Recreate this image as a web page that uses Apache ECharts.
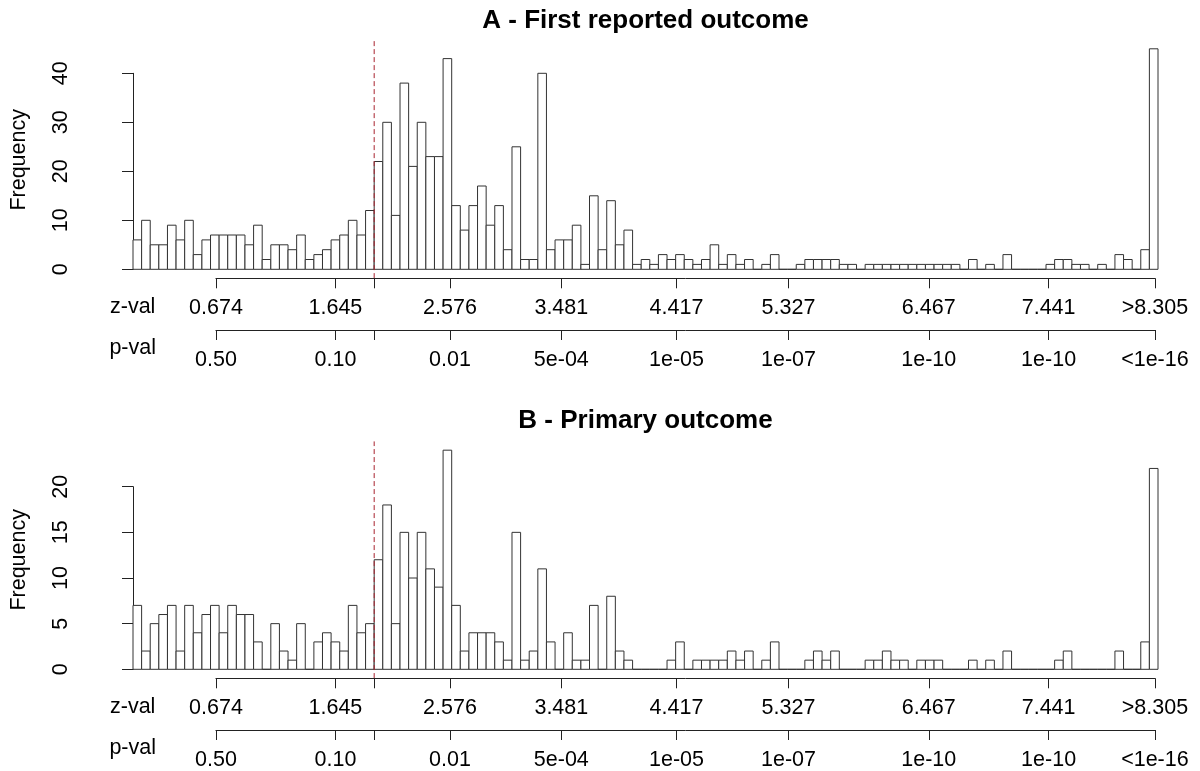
<!DOCTYPE html>
<html>
<head>
<meta charset="utf-8">
<script src="https://cdn.jsdelivr.net/npm/echarts@6/dist/echarts.min.js"></script>
<style>
  html, body { margin: 0; padding: 0; background: #fff; }
  #main { width: 1200px; height: 771px; }
</style>
</head>
<body>
<div id="main"></div>
<script>
// histogram bins of z, width 0.07 starting at 0 (last bin holds the capped values)
const binWidth = 0.07;
const zMax = 8.33;
const cutoff = 1.96;

const firstCounts = [
  6, 10, 5, 5, 9, 6, 10, 3, 6, 7,
  7, 7, 7, 5, 9, 2, 5, 5, 4, 7,
  2, 3, 4, 6, 7, 10, 7, 12, 22, 30,
  11, 38, 21, 30, 23, 23, 43, 13, 8, 13,
  17, 9, 13, 4, 25, 2, 2, 40, 4, 6,
  6, 9, 1, 15, 4, 14, 5, 8, 1, 2,
  1, 3, 2, 3, 2, 1, 2, 5, 1, 3,
  1, 2, 0, 1, 3, 0, 0, 1, 2, 2,
  2, 2, 1, 1, 0, 1, 1, 1, 1, 1,
  1, 1, 1, 1, 1, 1, 0, 2, 0, 1,
  0, 3, 0, 0, 0, 0, 1, 2, 2, 1,
  1, 0, 1, 0, 3, 2, 0, 4, 45
];

const primaryCounts = [
  7, 2, 5, 6, 7, 2, 7, 4, 6, 7,
  4, 7, 6, 6, 3, 0, 5, 2, 1, 5,
  0, 3, 4, 3, 2, 7, 4, 5, 12, 18,
  5, 15, 10, 15, 11, 9, 24, 7, 2, 4,
  4, 4, 3, 1, 15, 1, 2, 11, 3, 0,
  4, 1, 1, 7, 0, 8, 2, 1, 0, 0,
  0, 0, 1, 3, 0, 1, 1, 1, 1, 2,
  1, 2, 0, 1, 3, 0, 0, 0, 1, 2,
  1, 2, 0, 0, 0, 1, 1, 2, 1, 1,
  0, 1, 1, 1, 0, 0, 0, 1, 0, 1,
  0, 2, 0, 0, 0, 0, 0, 1, 2, 0,
  0, 0, 0, 0, 2, 0, 0, 3, 22
];

const zTicks = [0.674, 1.645, 1.96, 2.576, 3.481, 4.417, 5.327, 6.467, 7.441, 8.305];
const zLabels = ['0.674', '1.645', '', '2.576', '3.481', '4.417', '5.327', '6.467', '7.441', '>8.305'];
const pLabels = ['0.50', '0.10', '', '0.01', '5e-04', '1e-05', '1e-07', '1e-10', '1e-10', '<1e-16'];

const panels = [
  { title: 'A - First reported outcome', counts: firstCounts, yMax: 40, yStep: 10, base: 269.3, ppu: 4.9 },
  { title: 'B - Primary outcome', counts: primaryCounts, yMax: 20, yStep: 5, base: 669.3, ppu: 9.13 }
];

const FONT = '"Liberation Sans", Arial, sans-serif';
const X0 = 133, W = 1025, PX = W / zMax;
const zLeft = X0 + zTicks[0] * PX;
const zWidth = (zTicks[zTicks.length - 1] - zTicks[0]) * PX;

function tickText(list) {
  return function (v) {
    const i = zTicks.findIndex(t => Math.abs(t - v) < 1e-6);
    return i < 0 ? '' : list[i];
  };
}

const grid = [], xAxis = [], yAxis = [], series = [], graphic = [];

panels.forEach((p, k) => {
  const g = grid.length;
  const peak = Math.max.apply(null, p.counts);
  // bar grid, y axis only spans 0..yMax like R's axis
  grid.push({ left: X0, width: W, top: p.base - p.yMax * p.ppu, height: p.yMax * p.ppu, outerBoundsMode: 'none' });
  // plot region for the cutoff line
  grid.push({ left: X0, width: W, top: p.base - peak * 1.04 * p.ppu, height: peak * 1.08 * p.ppu, outerBoundsMode: 'none' });
  // z-val axis
  grid.push({ left: zLeft, width: zWidth, top: p.base - 1, height: 10, outerBoundsMode: 'none' });
  // p-val axis
  grid.push({ left: zLeft, width: zWidth, top: p.base + 50.7, height: 10, outerBoundsMode: 'none' });

  xAxis.push({ gridIndex: g, type: 'value', min: 0, max: zMax, show: false });
  xAxis.push({ gridIndex: g + 1, type: 'value', min: 0, max: zMax, show: false });
  [[g + 2, zLabels], [g + 3, pLabels]].forEach(([gi, labels]) => {
    xAxis.push({
      gridIndex: gi, type: 'value', position: 'bottom',
      min: zTicks[0], max: zTicks[zTicks.length - 1],
      axisLine: { show: true, lineStyle: { color: '#222', width: 1 } },
      axisTick: { show: true, length: 10, customValues: zTicks, lineStyle: { color: '#222', width: 1 } },
      axisLabel: {
        customValues: zTicks.filter((t, i) => labels[i] !== ''),
        formatter: tickText(labels),
        margin: 19, fontSize: 21.5, color: '#000', fontFamily: FONT
      },
      splitLine: { show: false }
    });
  });

  yAxis.push({
    gridIndex: g, type: 'value', min: 0, max: p.yMax, interval: p.yStep, offset: X0 - 92.7,
    axisLine: { show: true, lineStyle: { color: '#222', width: 1 } },
    axisTick: { show: true, length: 11, lineStyle: { color: '#222', width: 1 } },
    axisLabel: { rotate: 90, margin: 21, fontSize: 21.5, color: '#000', fontFamily: FONT },
    splitLine: { show: false }
  });
  yAxis.push({ gridIndex: g + 1, type: 'value', min: 0, max: 1, show: false });
  yAxis.push({ gridIndex: g + 2, type: 'value', show: false });
  yAxis.push({ gridIndex: g + 3, type: 'value', show: false });

  series.push({
    type: 'custom',
    xAxisIndex: g, yAxisIndex: g,
    clip: false,
    data: p.counts.map((c, i) => [i * binWidth, (i + 1) * binWidth, c]),
    encode: { x: [0, 1], y: 2 },
    renderItem: function (params, api) {
      const a = api.coord([api.value(0), api.value(2)]);
      const b = api.coord([api.value(1), 0]);
      return {
        type: 'rect',
        shape: { x: a[0], y: a[1], width: b[0] - a[0], height: b[1] - a[1] },
        style: { fill: '#fff', stroke: '#333', lineWidth: 1 }
      };
    }
  });
  series.push({
    type: 'line',
    xAxisIndex: g + 1, yAxisIndex: g + 1,
    data: [[cutoff, 0], [cutoff, 1]],
    symbol: 'none', silent: true, z: 5,
    lineStyle: { color: '#a8232e', width: 1, type: [5, 3] }
  });

  // texts
  graphic.push({
    type: 'text', x: 645.5, y: p.base - 248.5,
    style: { text: p.title, font: 'bold 26px ' + FONT, fill: '#000', textAlign: 'center', textVerticalAlign: 'middle' }
  });
  graphic.push({
    type: 'text', x: 19, y: p.base - 109.5, rotation: Math.PI / 2,
    style: { text: 'Frequency', font: '21.5px ' + FONT, fill: '#000', textAlign: 'center', textVerticalAlign: 'middle' }
  });
  graphic.push({
    type: 'text', x: 132.7, y: p.base + 38,
    style: { text: 'z-val', font: '21.5px ' + FONT, fill: '#000', textAlign: 'center', textVerticalAlign: 'middle' }
  });
  graphic.push({
    type: 'text', x: 132.7, y: p.base + 79,
    style: { text: 'p-val', font: '21.5px ' + FONT, fill: '#000', textAlign: 'center', textVerticalAlign: 'middle' }
  });
});

const myChart = echarts.init(document.getElementById('main'));
myChart.setOption({
  animation: false,
  backgroundColor: '#fff',
  grid: grid,
  xAxis: xAxis,
  yAxis: yAxis,
  series: series,
  graphic: graphic
});
</script>
</body>
</html>
